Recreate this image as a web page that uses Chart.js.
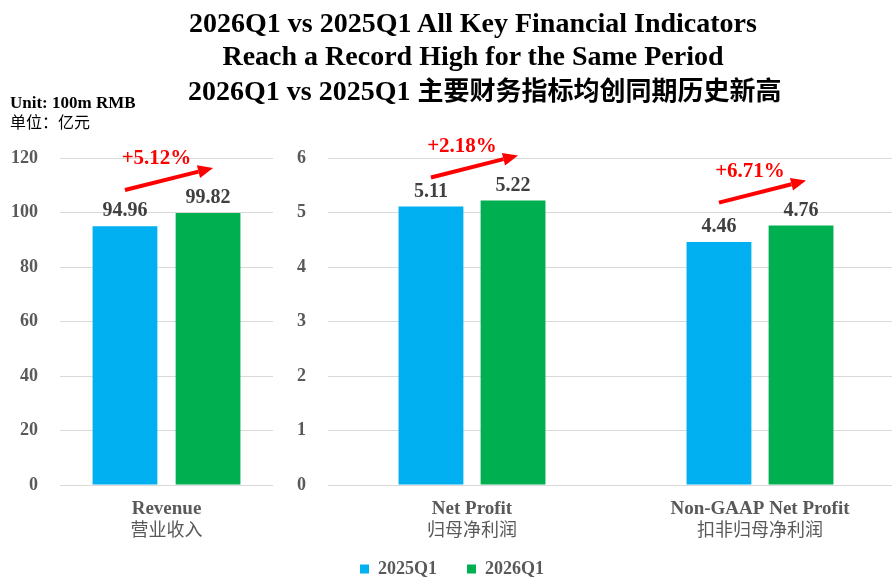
<!DOCTYPE html>
<html><head><meta charset="utf-8">
<script src="https://cdn.jsdelivr.net/npm/chart.js@4.4.1/dist/chart.umd.min.js"></script>
<style>
html,body{margin:0;padding:0;background:#fff;overflow:hidden;}
#wrap{position:relative;width:892px;height:577px;overflow:hidden;background:#fff;}
canvas{position:absolute;top:0;left:0;}
.txt{position:absolute;white-space:nowrap;font-weight:bold;color:#000;}
.title{left:0;width:946px;text-align:center;font-family:"Liberation Serif","Noto Sans CJK SC",serif;font-size:28px;line-height:28px;}
.title .zh{font-family:"Noto Sans CJK SC",sans-serif;font-size:26px;}
.unit{left:10px;font-family:"Liberation Serif",serif;font-size:17px;line-height:17px;}
.unitzh{left:10px;font-family:"Noto Sans CJK SC",sans-serif;font-size:16px;line-height:16px;font-weight:normal;}
</style></head>
<body>
<div id="wrap">
  <canvas id="cR" width="904" height="577"></canvas>
  <canvas id="cL" width="290" height="577"></canvas>
  <div class="txt title" style="top:9px">2026Q1 vs 2025Q1 All Key Financial Indicators</div>
  <div class="txt title" style="top:42px">Reach a Record High for the Same Period</div>
  <div class="txt title" style="top:75px;left:188px;width:auto;text-align:left">2026Q1 vs 2025Q1 <span class="zh">主要财务指标均创同期历史新高</span></div>
  <div class="txt unit" style="top:94px">Unit: 100m RMB</div>
  <div class="txt unitzh" style="top:113px">单位：亿元</div>
</div>
<script>
// ---- data ----
const seriesNames = ['2025Q1', '2026Q1'];
const leftCatsEn = ['Revenue'];
const leftCatsZh = ['营业收入'];
const revenue2025 = [94.96];
const revenue2026 = [99.82];
const revenueGrowth = ['+5.12%'];
const leftTicks = { min: 0, max: 120, step: 20 };

const rightCatsEn = ['Net Profit', 'Non-GAAP Net Profit'];
const rightCatsZh = ['归母净利润', '扣非归母净利润'];
const profit2025 = [5.11, 4.46];
const profit2026 = [5.22, 4.76];
const profitGrowth = ['+2.18%', '+6.71%'];
const rightTicks = { min: 0, max: 6, step: 1 };

// ---- styles ----
const BLUE = '#00B0F0', GREEN = '#00B050', GRID = '#D9D9D9', AXIS_TXT = '#595959';
const SERIF = '"Liberation Serif", "Times New Roman", serif';
const CHART_TOP = 158, CHART_BOTTOM = 485;

const annotPlugin = {
  id: 'annot',
  afterDatasetsDraw(chart, args, opts) {
    const ctx = chart.ctx;
    ctx.save();
    ctx.font = 'bold 20px ' + SERIF;
    ctx.fillStyle = '#404040';
    ctx.textAlign = 'center';
    ctx.textBaseline = 'alphabetic';
    chart.data.datasets.forEach((ds, di) => {
      chart.getDatasetMeta(di).data.forEach((bar, i) => {
        ctx.fillText(ds.data[i].toFixed(2), bar.x, bar.y - 10);
      });
    });
    const m0 = chart.getDatasetMeta(0), m1 = chart.getDatasetMeta(1);
    m0.data.forEach((b0, i) => {
      const b1 = m1.data[i];
      const top = Math.min(b0.y, b1.y);
      const x0 = b0.x, y0 = top - 23, x1 = b1.x + 5, y1 = top - 45;
      const ang = Math.atan2(y1 - y0, x1 - x0);
      const hl = 15, hw = 6.5;
      const bx = x1 - hl * Math.cos(ang), by = y1 - hl * Math.sin(ang);
      ctx.strokeStyle = '#FF0000';
      ctx.lineWidth = 4;
      ctx.beginPath(); ctx.moveTo(x0, y0); ctx.lineTo(bx, by); ctx.stroke();
      ctx.fillStyle = '#FF0000';
      ctx.beginPath();
      ctx.moveTo(x1, y1);
      ctx.lineTo(bx + hw * Math.sin(ang), by - hw * Math.cos(ang));
      ctx.lineTo(bx - hw * Math.sin(ang), by + hw * Math.cos(ang));
      ctx.closePath(); ctx.fill();
      ctx.font = 'bold 21px ' + SERIF;
      ctx.fillText(opts.growth[i], (b0.x + b1.x) / 2 - 10, top - 49);
    });
    const xs = chart.scales.x;
    ctx.font = '18px "Noto Sans CJK SC", sans-serif';
    ctx.fillStyle = AXIS_TXT;
    opts.zh.forEach((t, i) => {
      ctx.fillText(t, xs.getPixelForTick(i), chart.chartArea.bottom + 51);
    });
    ctx.restore();
  }
};

function makeOptions(cfg) {
  return {
    responsive: false,
    animation: false,
    devicePixelRatio: 1,
    layout: { padding: cfg.padding },
    plugins: {
      title: { display: false },
      tooltip: { enabled: false },
      legend: cfg.legend,
      annot: { growth: cfg.growth, zh: cfg.zh }
    },
    scales: {
      x: {
        grid: { display: false, drawTicks: false },
        border: { display: false },
        ticks: { color: AXIS_TXT, font: { family: SERIF, size: 19, weight: 'bold' }, padding: 13, maxRotation: 0, autoSkip: false },
        afterFit(scale) {
          const lg = scale.chart.legend;
          const lh = (lg && scale.chart.options.plugins.legend.display) ? lg.height : 0;
          scale.height = scale.chart.height - CHART_BOTTOM - lh - (cfg.padding.bottom || 0);
        }
      },
      y: {
        min: cfg.ticks.min, max: cfg.ticks.max,
        grid: { color: GRID, lineWidth: 1, drawTicks: false },
        border: { display: false },
        ticks: { stepSize: cfg.ticks.step, color: AXIS_TXT, font: { family: SERIF, size: 18, weight: 'bold' }, padding: 22 },
        afterFit(scale) { scale.width = cfg.yWidth; }
      }
    }
  };
}

new Chart(document.getElementById('cL'), {
  type: 'bar',
  data: {
    labels: leftCatsEn,
    datasets: [
      { label: seriesNames[0], data: revenue2025, backgroundColor: BLUE, categoryPercentage: 0.78, barPercentage: 0.78 },
      { label: seriesNames[1], data: revenue2026, backgroundColor: GREEN, categoryPercentage: 0.78, barPercentage: 0.78 }
    ]
  },
  options: makeOptions({
    padding: { top: CHART_TOP, right: 17, left: 0, bottom: 0 },
    legend: { display: false },
    growth: revenueGrowth, zh: leftCatsZh, ticks: leftTicks, yWidth: 60
  }),
  plugins: [annotPlugin]
});

new Chart(document.getElementById('cR'), {
  type: 'bar',
  data: {
    labels: rightCatsEn,
    datasets: [
      { label: seriesNames[0], data: profit2025, backgroundColor: BLUE, categoryPercentage: 0.57, barPercentage: 0.79 },
      { label: seriesNames[1], data: profit2026, backgroundColor: GREEN, categoryPercentage: 0.57, barPercentage: 0.79 }
    ]
  },
  options: makeOptions({
    padding: { top: CHART_TOP, right: 0, left: 0, bottom: -11 },
    legend: {
      display: true, position: 'bottom',
      labels: { boxWidth: 9, boxHeight: 9, padding: 30, color: AXIS_TXT, font: { family: SERIF, size: 18, weight: 'bold' } }
    },
    growth: profitGrowth, zh: rightCatsZh, ticks: rightTicks, yWidth: 328
  }),
  plugins: [annotPlugin]
});
</script>
</body></html>
